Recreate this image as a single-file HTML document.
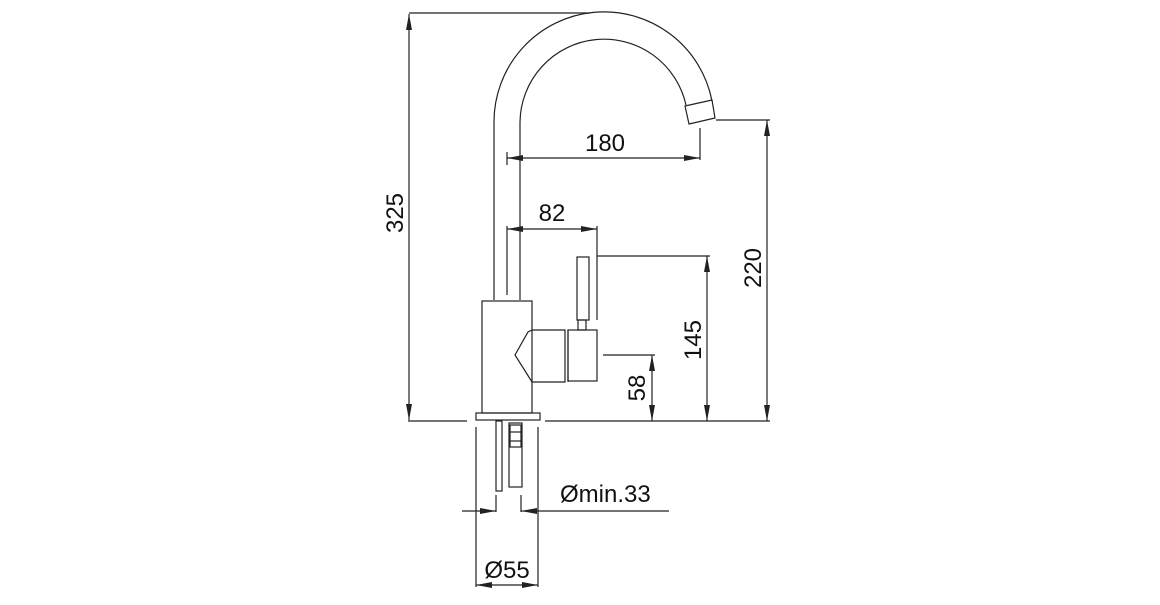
<!DOCTYPE html>
<html><head><style>body{margin:0;background:#fff}</style></head><body>
<svg width="1160" height="600" xmlns="http://www.w3.org/2000/svg" font-family="Liberation Sans, sans-serif" font-size="24" fill="none" stroke="#222" stroke-width="1.2">
<defs><marker id="a" viewBox="0 0 16 6" refX="16" refY="3" markerWidth="16" markerHeight="6" markerUnits="userSpaceOnUse" orient="auto-start-reverse"><path d="M0,0 L16,3 L0,6z" fill="#222" stroke="none"/></marker></defs>
<!-- spout -->
<path d="M494,300 L494,122 A110,110 0 0 1 712,101"/>
<path d="M520,300 L520,122 A84,84 0 0 1 686,105"/>
<path d="M685,106 L712,100 L715,118 L689,124 Z"/>
<!-- body -->
<rect x="482" y="301" width="50" height="112"/>
<rect x="476" y="413" width="64" height="7"/>
<path d="M532,330 L528,332 L515,355 L532,382 L565,382 L565,330 Z"/>
<line x1="568" y1="330" x2="568" y2="382"/>
<rect x="568" y="330" width="29" height="51"/>
<rect x="577" y="257" width="12" height="63"/>
<rect x="578" y="320" width="8" height="10"/>
<!-- pipes below -->
<rect x="496" y="421" width="6" height="70"/>
<rect x="509" y="423" width="13" height="64"/>
<rect x="510" y="425" width="11" height="22"/>
<line x1="510" y1="432" x2="521" y2="432"/><line x1="510" y1="441" x2="521" y2="441"/>
<!-- base line -->
<line x1="408" y1="421" x2="467" y2="421"/><line x1="545" y1="421" x2="770" y2="421"/>
<!-- 325 -->
<line x1="409" y1="13" x2="590" y2="13"/>
<line x1="409" y1="14" x2="409" y2="420" marker-start="url(#a)" marker-end="url(#a)"/>
<text transform="translate(403,213) rotate(-90)" fill="#111" stroke="none" text-anchor="middle">325</text>
<!-- 180 -->
<line x1="700" y1="128" x2="700" y2="160"/><line x1="507" y1="152" x2="507" y2="165"/>
<line x1="507" y1="158" x2="700" y2="158" marker-start="url(#a)" marker-end="url(#a)"/>
<text x="605" y="151" fill="#111" stroke="none" text-anchor="middle">180</text>
<!-- 82 -->
<line x1="507" y1="226" x2="507" y2="295"/><line x1="597" y1="226" x2="597" y2="320"/>
<line x1="507" y1="229" x2="597" y2="229" marker-start="url(#a)" marker-end="url(#a)"/>
<text x="552" y="221" fill="#111" stroke="none" text-anchor="middle">82</text>
<!-- 220 -->
<line x1="716" y1="120" x2="770" y2="120"/>
<line x1="767" y1="120" x2="767" y2="421" marker-start="url(#a)" marker-end="url(#a)"/>
<text transform="translate(761,268) rotate(-90)" fill="#111" stroke="none" text-anchor="middle">220</text>
<!-- 145 -->
<line x1="597" y1="256" x2="710" y2="256"/>
<line x1="707" y1="256" x2="707" y2="421" marker-start="url(#a)" marker-end="url(#a)"/>
<text transform="translate(701,340) rotate(-90)" fill="#111" stroke="none" text-anchor="middle">145</text>
<!-- 58 -->
<line x1="603" y1="355" x2="655" y2="355"/>
<line x1="652" y1="355" x2="652" y2="421" marker-start="url(#a)" marker-end="url(#a)"/>
<text transform="translate(645,388) rotate(-90)" fill="#111" stroke="none" text-anchor="middle">58</text>
<!-- min33 -->
<line x1="496" y1="495" x2="496" y2="512"/><line x1="521" y1="495" x2="521" y2="512"/>
<line x1="462" y1="511" x2="496" y2="511" marker-end="url(#a)"/>
<line x1="669" y1="511" x2="521" y2="511" marker-end="url(#a)"/>
<text x="560" y="502" fill="#111" stroke="none">Ømin.33</text>
<!-- 55 -->
<line x1="476" y1="427" x2="476" y2="587"/><line x1="538" y1="427" x2="538" y2="587"/>
<line x1="476" y1="585" x2="538" y2="585" marker-start="url(#a)" marker-end="url(#a)"/>
<text x="507" y="578" fill="#111" stroke="none" text-anchor="middle">Ø55</text>
</svg>
</body></html>
